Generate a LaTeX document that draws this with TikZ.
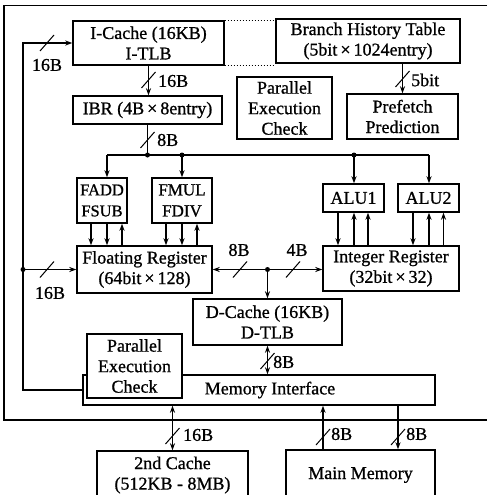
\documentclass[tikz,border=0pt]{standalone}
\usepackage{fontspec}
\setmainfont{Liberation Serif}[FakeBold=0.9]
\usetikzlibrary{arrows.meta,calc}
\begin{document}
\begin{tikzpicture}[x=1pt,y=-1pt,
  box/.style={draw,line width=1.4pt,fill=white,inner sep=0pt,align=center,
    font=\fontsize{18}{20.5}\selectfont},
  conn/.style={line width=1.3pt},
  arr/.style={conn,-{Stealth[length=7pt,width=5pt]}},
  darr/.style={conn,{Stealth[length=7pt,width=5pt]}-{Stealth[length=7pt,width=5pt]}},
  lbl/.style={font=\fontsize{18}{20}\selectfont,inner sep=0pt},
  dotpt/.style={circle,fill,inner sep=0pt,minimum size=5pt},
  dottedline/.style={line width=1pt,dash pattern=on 1.5pt off 1.5pt},
  slashpic/.pic={\draw[line width=1pt] (-7,8) -- (7,-8);}
]
\useasboundingbox (0,0) rectangle (487,495);
\clip (0,0) rectangle (487,495);

% outer frame (open on the right)
\draw[line width=1.4pt] (487,5.5) -- (4,5.5) -- (4,420) -- (487,420);

% boxes
\node[box,minimum width=151pt,minimum height=44pt] (icache) at (148.5,43) {I-Cache (16KB)\\I-TLB};
\node[box,minimum width=184pt,minimum height=44pt] (bht) at (368,41) {Branch History Table\\(5bit\,×\,1024entry)};
\node[box,minimum width=149pt,minimum height=28pt] (ibr) at (147.5,110) {IBR (4B\,×\,8entry)};
\node[box,minimum width=95pt,minimum height=62pt] (pec1) at (284.5,108) {Parallel\\Execution\\Check};
\node[box,minimum width=111pt,minimum height=45pt] (pref) at (402.5,116.5) {Prefetch\\Prediction};
\node[box,minimum width=50pt,minimum height=45pt,font=\fontsize{16.5}{21}\selectfont] (fadd) at (102,200.5) {FADD\\FSUB};
\node[box,minimum width=60pt,minimum height=45pt,font=\fontsize{17}{21}\selectfont] (fmul) at (182,200.5) {FMUL\\FDIV};
\node[box,minimum width=135pt,minimum height=47pt] (freg) at (144.5,269.5) {Floating Register\\(64bit\,×\,128)};
\node[box,minimum width=61pt,minimum height=28pt] (alu1) at (353.5,198) {ALU1};
\node[box,minimum width=61pt,minimum height=28pt] (alu2) at (428.5,198) {ALU2};
\node[box,minimum width=136pt,minimum height=45pt] (ireg) at (391,268.5) {Integer Register\\(32bit\,×\,32)};
\node[box,minimum width=149pt,minimum height=46pt] (dcache) at (267.5,322) {D-Cache (16KB)\\D-TLB};
\node[box,minimum width=352pt,minimum height=30pt] (memif) at (259,390) {\hspace*{22pt}Memory Interface};
\node[box,minimum width=95pt,minimum height=64pt] (pec2) at (134.5,366) {Parallel\\Execution\\Check};
\node[box,minimum width=151pt,minimum height=48pt] (l2) at (172.5,475) {2nd Cache\\(512KB - 8MB)};
\node[box,minimum width=149pt,minimum height=50pt] (mainmem) at (360.5,475) {Main Memory};

% dotted links I-Cache -- BHT
\draw[dottedline] (icache.north east) -- (bht.west |- icache.north east);
\draw[dottedline] (icache.south east) -- (bht.west |- icache.south east);

% I-Cache -> IBR
\draw[arr] (icache.south) -- (icache.south |- ibr.north);
\pic at (148.5,80) {slashpic};
\node[lbl,anchor=west] (l16a) at (158,81) {16B};

% BHT -> Prefetch
\draw[arr] (pref.north |- bht.south) -- (pref.north);
\pic at (402.5,79) {slashpic};
\node[lbl,anchor=west] (l5bit) at (411,80) {5bit};

% IBR -> bus
\coordinate (lx) at (23,0);
\coordinate (bI) at (147.5,155);
\coordinate (bF) at (107,155);
\coordinate (bM) at (182,155);
\coordinate (bA1) at (354,155);
\coordinate (bA2) at (429,155);
\draw[conn] (ibr.south) -- (bI);
\pic at (147.5,140) {slashpic};
\node[lbl,anchor=west] (l8a) at (157,140) {8B};
\draw[conn] (bF) -- (bA2);
\draw[arr] (bF) -- (bF |- fadd.north);
\draw[arr] (bM) -- (bM |- fmul.north);
\draw[arr] (bA1) -- (bA1 |- alu1.north);
\draw[arr] (bA2) -- (bA2 |- alu2.north);
\node[dotpt] at (bI) {};
\node[dotpt] at (bM) {};
\node[dotpt] at (bA1) {};

% FP units <-> Floating Register
\coordinate (c91) at (91,0);
\coordinate (c107) at (107,0);
\coordinate (c122) at (122,0);
\coordinate (c166) at (166,0);
\coordinate (c182) at (182,0);
\coordinate (c197) at (197,0);
\draw[arr] (c91 |- fadd.south) -- (c91 |- freg.north);
\draw[arr] (c107 |- fadd.south) -- (c107 |- freg.north);
\draw[arr] (c122 |- freg.north) -- (c122 |- fadd.south);
\draw[arr] (c166 |- fmul.south) -- (c166 |- freg.north);
\draw[arr] (c182 |- fmul.south) -- (c182 |- freg.north);
\draw[arr] (c197 |- freg.north) -- (c197 |- fmul.south);

% ALUs <-> Integer Register
\coordinate (c338) at (338,0);
\coordinate (c354) at (354,0);
\coordinate (c368) at (368,0);
\coordinate (c413) at (413,0);
\coordinate (c429) at (429,0);
\coordinate (c443) at (443.5,0);
\draw[arr] (c338 |- alu1.south) -- (c338 |- ireg.north);
\draw[arr] (c354 |- ireg.north) -- (c354 |- alu1.south);
\draw[arr] (c368 |- ireg.north) -- (c368 |- alu1.south);
\draw[arr] (c413 |- alu2.south) -- (c413 |- ireg.north);
\draw[arr] (c429 |- ireg.north) -- (c429 |- alu2.south);
\draw[arr] (c443 |- ireg.north) -- (c443 |- alu2.south);

% Floating <-> Integer register bus and D-Cache
\draw[darr] (freg.east) -- (freg.east -| ireg.west);
\coordinate (bD) at (dcache.north |- freg.east);
\draw[arr] (bD) -- (dcache.north);
\node[dotpt] at (bD) {};
\pic at (240,269.5) {slashpic};
\pic at (293,269.5) {slashpic};
\node[lbl] (l8b) at (239,250) {8B};
\node[lbl] (l4b) at (297,250) {4B};

% left bus from Memory Interface
\draw[arr] (memif.west) -- (memif.west -| lx) |- (icache.west);
\draw[arr] (lx |- freg.west) -- (freg.west);
\node[dotpt] at (lx |- freg.west) {};
\pic at (47,43) {slashpic};
\pic at (47,269.5) {slashpic};
\node[lbl] (l16b) at (47,65) {16B};
\node[lbl] (l16c) at (50,293) {16B};

% D-Cache <-> Memory Interface
\draw[darr] (dcache.south) -- (dcache.south |- memif.north);
\pic at (267.5,361) {slashpic};
\node[lbl,anchor=west] (l8c) at (273,362) {8B};

% Memory Interface <-> 2nd Cache
\draw[darr] (l2.north |- memif.south) -- (l2.north);
\pic at (172.5,436) {slashpic};
\node[lbl,anchor=west] (l16d) at (183,435) {16B};

% Main Memory <-> Memory Interface
\coordinate (m1) at (323,0);
\coordinate (m2) at (398,0);
\draw[arr] (m1 |- mainmem.north) -- (m1 |- memif.south);
\draw[arr] (m2 |- memif.south) -- (m2 |- mainmem.north);
\pic at (323,437) {slashpic};
\pic at (398,437) {slashpic};
\node[lbl,anchor=west] (l8d) at (331,434) {8B};
\node[lbl,anchor=west] (l8e) at (406,434) {8B};
\end{tikzpicture}
\end{document}
